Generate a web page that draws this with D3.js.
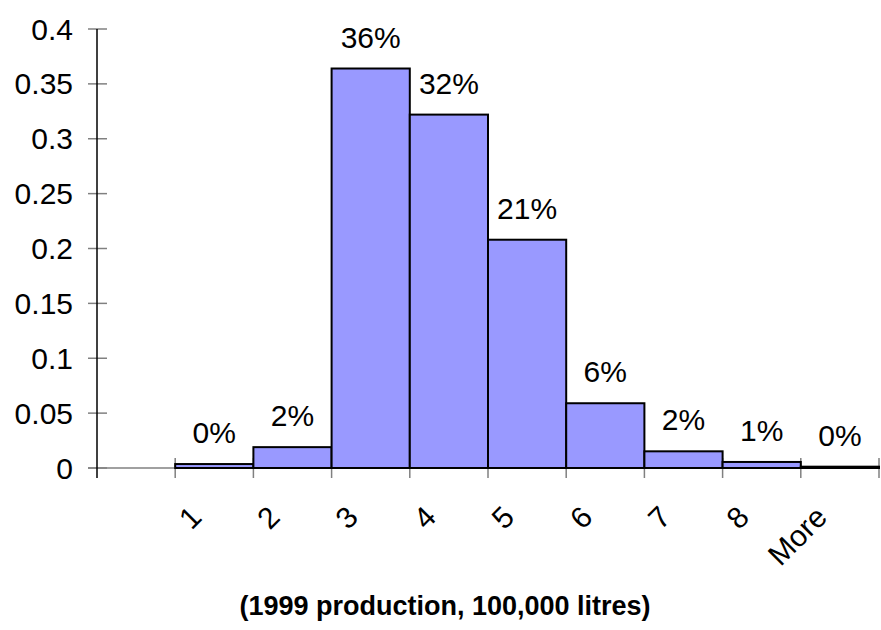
<!DOCTYPE html>
<html>
<head>
<meta charset="utf-8">
<script src="https://cdn.jsdelivr.net/npm/d3@7"></script>
<style>
  body { margin: 0; background: #fff; }
  svg { display: block; }
  text { font-family: "Liberation Sans", Arial, sans-serif; fill: #000; }
</style>
</head>
<body>
<svg id="chart" width="881" height="630"></svg>
<script>
const categories = ["", "1", "2", "3", "4", "5", "6", "7", "8", "More"];
const frequencies = [null, 0.0036, 0.019, 0.364, 0.322, 0.208, 0.059, 0.0152, 0.0055, 0.0012];
const yTicks = [0, 0.05, 0.1, 0.15, 0.2, 0.25, 0.3, 0.35, 0.4];
const xTitle = "(1999 production, 100,000 litres)";

const svg = d3.select("#chart");
const x = d3.scaleBand().domain(categories).range([97, 879]).padding(0);
const y = d3.scaleLinear().domain([0, 0.4]).range([468, 29]);

const data = categories.map((c, i) => ({ c, v: frequencies[i] }));

// Y ticks (gray, crossing)
svg.append("g").selectAll("line").data(yTicks).join("line")
  .attr("x1", 88).attr("x2", 107)
  .attr("y1", d => y(d)).attr("y2", d => y(d))
  .attr("stroke", "#808080").attr("stroke-width", 1.5);

// Y tick labels
svg.append("g").selectAll("text").data(yTicks).join("text")
  .attr("x", 73).attr("y", d => y(d))
  .attr("text-anchor", "end").attr("dominant-baseline", "central")
  .style("font-size", "30px")
  .text(d => d3.format("")(d));

// X axis line (gray)
svg.append("line")
  .attr("x1", 88).attr("x2", x.range()[1])
  .attr("y1", y(0)).attr("y2", y(0))
  .attr("stroke", "#808080").attr("stroke-width", 1.5);

// X ticks at band boundaries
const bounds = categories.map(c => x(c)).concat([x.range()[1]]);
svg.append("g").selectAll("line").data(bounds.slice(1)).join("line")
  .attr("x1", d => d).attr("x2", d => d)
  .attr("y1", y(0) - 10).attr("y2", y(0) + 10)
  .attr("stroke", "#808080").attr("stroke-width", 1.5);

// Bars
svg.append("g").selectAll("rect").data(data.filter(d => d.v != null)).join("rect")
  .attr("x", d => x(d.c)).attr("width", x.bandwidth())
  .attr("y", d => y(d.v)).attr("height", d => y(0) - y(d.v))
  .attr("fill", "#9999ff").attr("stroke", "#000").attr("stroke-width", 2);

// Y axis line (black)
svg.append("line")
  .attr("x1", 97).attr("x2", 97)
  .attr("y1", y(0.4)).attr("y2", y(0) + 10)
  .attr("stroke", "#000").attr("stroke-width", 1.5);

// Data labels
svg.append("g").selectAll("text").data(data.filter(d => d.v != null)).join("text")
  .attr("x", d => x(d.c) + x.bandwidth() / 2)
  .attr("y", d => y(d.v) - 21)
  .attr("text-anchor", "middle")
  .style("font-size", "30px")
  .text(d => d3.format(".0%")(d.v));

// Category labels (rotated)
svg.append("g").selectAll("text").data(categories.filter(c => c !== "")).join("text")
  .attr("text-anchor", "end")
  .attr("transform", c => `translate(${x(c) + x.bandwidth() / 2 - 11},519) rotate(-45)`)
  .style("font-size", "30px")
  .text(c => c);

// X title
svg.append("text")
  .attr("x", 445).attr("y", 615)
  .attr("text-anchor", "middle")
  .style("font-size", "27px").style("font-weight", "bold")
  .text(xTitle);
</script>
</body>
</html>
